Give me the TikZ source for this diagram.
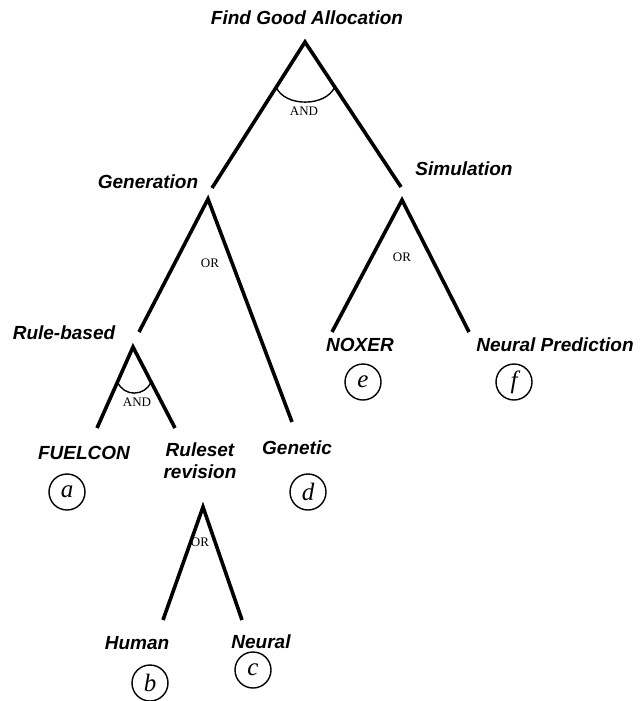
\documentclass[tikz,border=0pt]{standalone}
\usepackage{fontspec}
\setmainfont{Liberation Serif}
\newfontfamily\goalfont{Liberation Sans}
\usetikzlibrary{calc}

\tikzset{
  goal/.style={font=\goalfont\bfseries\itshape\fontsize{19}{22}\selectfont,align=center,inner sep=0pt},
  link/.style={font=\fontsize{13}{14}\selectfont,inner sep=0pt},
  leaf/.style={circle,draw,line width=1.4pt,minimum size=36pt,inner sep=0pt,font=\itshape\fontsize{25}{25}\selectfont},
  branch/.style={line width=3.6pt},
  andarc/.style={line width=1.4pt}
}

\begin{document}
\begin{tikzpicture}[x=1pt,y=-1pt]
\useasboundingbox (0,0) rectangle (640,701);

\node[goal] (find) at (307,18) {Find Good Allocation};
\node[goal] (gen) at (148,182) {Generation};
\node[goal] (sim) at (464,169) {Simulation};
\node[goal] (rule) at (64,333) {Rule-based};
\node[goal] (fuel) at (84,453) {FUELCON};
\node[goal] (rev) at (200,461) {Ruleset\\revision};
\node[goal] (genetic) at (297,448) {Genetic};
\node[goal] (nox) at (360,345) {NOXER};
\node[goal] (npred) at (555,345) {Neural Prediction};
\node[goal] (human) at (137,643) {Human};
\node[goal] (neural) at (261,642) {Neural};

\node[leaf] (la) at (67,492) {a};
\node[leaf] (lb) at (150,683) {b};
\node[leaf] (lc) at (253,670) {c};
\node[leaf] (ld) at (308,492) {d};
\node[leaf] (le) at (363,382) {e};
\node[leaf] (lf) at (514,382) {f};

% top: AND
\coordinate (findTop) at (305,42);
\coordinate (findL) at (212,188);
\coordinate (findR) at (401,187);
\draw[branch] (findL) -- (findTop) -- (findR);
\coordinate (a1) at ($(findTop)!0.31!(findL)$);
\coordinate (a2) at ($(findTop)!0.31!(findR)$);
\draw[andarc] (a1) .. controls ($(a1)+(9,20)$) and ($(a2)+(-9,20)$) .. (a2);
\node[link] (and1) at (304,111) {AND};

% generation: OR
\coordinate (genTop) at (208,199);
\coordinate (genL) at (139,332);
\coordinate (genR) at (292,422);
\draw[branch] (genL) -- (genTop) -- (genR);
\node[link] (or1) at (210,263) {OR};

% simulation: OR
\coordinate (simTop) at (402,200);
\coordinate (simL) at (332,332);
\coordinate (simR) at (469,332);
\draw[branch] (simL) -- (simTop) -- (simR);
\node[link] (or2) at (402,257) {OR};

% rule-based: AND
\coordinate (ruleTop) at (133,347);
\coordinate (ruleL) at (97,428);
\coordinate (ruleR) at (175,428);
\draw[branch] (ruleL) -- (ruleTop) -- (ruleR);
\coordinate (b1) at ($(ruleTop)!0.43!(ruleL)$);
\coordinate (b2) at ($(ruleTop)!0.43!(ruleR)$);
\draw[andarc] (b1) .. controls ($(b1)+(6,15)$) and ($(b2)+(-6,15)$) .. (b2);
\node[link] (and2) at (137,402) {AND};

% ruleset revision: OR
\coordinate (revTop) at (203,507);
\coordinate (revL) at (163,620);
\coordinate (revR) at (242,620);
\draw[branch] (revL) -- (revTop) -- (revR);
\node[link] (or3) at (200,542) {OR};
\end{tikzpicture}
\end{document}
